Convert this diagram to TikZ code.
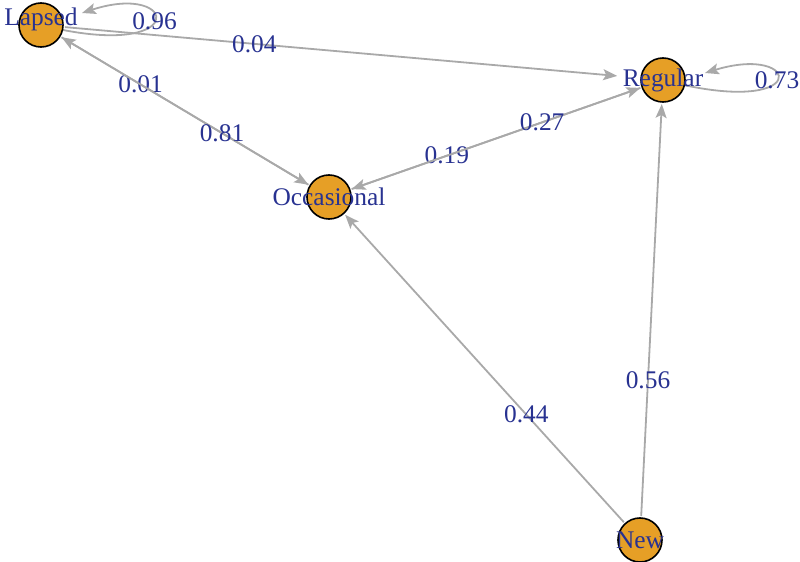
\documentclass[tikz,border=0pt]{standalone}
\usepackage{fontspec}
\setmainfont{Liberation Serif}
\usetikzlibrary{arrows.meta,backgrounds}
\definecolor{stateorange}{RGB}{230,159,38}
\definecolor{edgegray}{RGB}{169,169,169}
\definecolor{labelblue}{RGB}{40,50,145}

\begin{document}
\begin{tikzpicture}[x=0.5pt,y=-0.5pt,
	font=\fontsize{12.7}{15}\selectfont,
	>={Stealth[length=7pt,width=5.5pt,inset=1.5pt]},
	state/.style={circle,draw=black,line width=0.8pt,fill=stateorange,
		minimum size=22pt,inner sep=0pt,outer sep=1pt},
	statename/.style={text=labelblue},
	trans/.style={draw=edgegray,line width=0.9pt,->},
	prob/.style={text=labelblue,inner sep=0pt}]
	
	\useasboundingbox (0,0) rectangle (800,562);
	
	%------------------------------
	% States
	%------------------------------
	\node[state,label={[statename,yshift=3pt]center:Lapsed}] (lapsed) at (41,25) {};
	\node[state,label={[statename]center:Regular}] (regular) at (663,80) {};
	\node[state,label={[statename]center:Occasional}] (occasional) at (329,197) {};
	\node[state,label={[statename]center:New}] (new) at (640,540) {};
	
	% Tips of the self loops
	\coordinate (lapsedTip) at (82,13);
	\coordinate (regularTip) at (705,73);
	
	%------------------------------
	% Transitions (under the states)
	%------------------------------
	\begin{pgfonlayer}{background}
		% Self loops
		\draw[trans] (lapsed.center) .. controls +(150,38) and +(98,-32) .. (lapsedTip)
		node[prob,pos=0.5] {0.96};
		\draw[trans] (regular.center) .. controls +(150,40) and +(98,-30) .. (regularTip)
		node[prob,pos=0.5] {0.73};
		
		% Lapsed
		\draw[trans,shorten >=11pt] (lapsed) -- (regular) node[prob,pos=0.33] {0.04};
		\draw[trans] (lapsed) -- (occasional) node[prob,pos=0.32] {0.01};
		
		% Occasional
		\draw[trans] (occasional) -- (lapsed) node[prob,pos=0.35] {0.81};
		\draw[trans] (occasional) -- (regular) node[prob,pos=0.33] {0.19};
		
		% Regular
		\draw[trans] (regular) -- (occasional) node[prob,pos=0.34] {0.27};
		
		% New
		\draw[trans] (new) -- (occasional) node[prob,pos=0.35] {0.44};
		\draw[trans] (new) -- (regular) node[prob,pos=0.33] {0.56};
	\end{pgfonlayer}
	
\end{tikzpicture}
\end{document}
